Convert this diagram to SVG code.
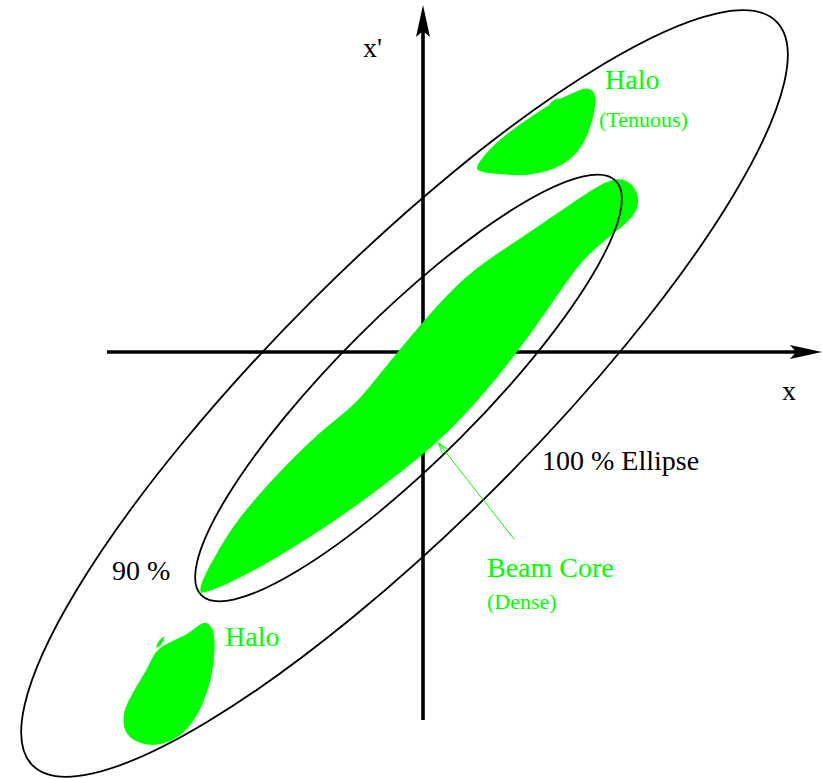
<svg xmlns="http://www.w3.org/2000/svg" width="822" height="778" viewBox="0 0 822 778">
<defs>
<style>
.axis{stroke:#000;stroke-width:3.6;fill:none}
.ell{stroke:#000;stroke-width:1.8;fill:none}
.blob{fill:#00ff00;stroke:none}
.lbl{font-family:"Liberation Serif","Times New Roman",serif;font-size:28px;fill:#000}
.glbl{font-family:"Liberation Serif","Times New Roman",serif;font-size:28px;fill:#00ff00}
.gsmall{font-family:"Liberation Serif","Times New Roman",serif;font-size:22px;fill:#00ff00}
</style>
<marker id="axisHead" markerUnits="userSpaceOnUse" markerWidth="34" markerHeight="16" viewBox="0 0 34 16" refX="6" refY="8" orient="auto">
<path d="M32,8 L0,1 L6,8 L0,15 Z" fill="#000"/>
</marker>
<marker id="pointer" markerUnits="userSpaceOnUse" markerWidth="13" markerHeight="9" viewBox="0 0 13 9" refX="12" refY="4.5" orient="auto">
<path d="M1,1 L12,4.5 L1,8" fill="none" stroke="#00ff00" stroke-width="1"/>
</marker>
</defs>
<rect width="822" height="778" fill="#fff"/>
<g id="axes">
<line class="axis" x1="107" y1="352" x2="796" y2="352" marker-end="url(#axisHead)"/>
<line class="axis" x1="423" y1="720" x2="423" y2="31" marker-end="url(#axisHead)"/>
</g>
<g id="beam-core">
<path class="blob" d="M204,592.5 Q194,595 210.5,564.5 Q227,534 240.5,517 Q254,500 269,483.5 Q284,467 301.5,450 Q319,433 334,421 Q349,409 356,402 Q363,395 381.5,372 Q400,349 420,325.5 Q440,302 457,285.5 Q474,269 500.5,251.5 Q527,234 551,217.5 Q575,201 588,192.5 Q601,184 609.5,181 Q618,178 625,180.5 Q632,183 636,191.5 Q640,200 636.5,209 Q633,218 619,229 Q605,240 595.5,248.5 Q586,257 579,265.5 Q572,274 561,290 Q550,306 538,323 Q526,340 513,357 Q500,374 486.5,390 Q473,406 456.5,423 Q440,440 420,456.5 Q400,473 378,489.5 Q356,506 331,523 Q306,540 278,556.5 Q250,573 232,581.5 Q214,590 204,592.5 Z"/>
</g>
<g id="halo-top">
<path class="blob" d="M477.5,169.5 Q475,167 484,156 Q493,145 506.5,134.5 Q520,124 535,114 Q550,104 561,98.5 Q572,93 580,90 Q588,87 592,90.5 Q596,94 595.5,102 Q595,110 591.5,122.5 Q588,135 582,145 Q576,155 566,162 Q556,169 541,172.5 Q526,176 512,175 Q498,174 489,173 Q480,172 477.5,169.5 Z"/>
<path class="blob" d="M549,105 Q553,99 560,98 Q557,101 556,104 Z"/>
</g>
<g id="halo-bottom">
<path class="blob" d="M203.5,623 Q207,622 211,627 Q215,632 214.5,648.5 Q214,665 210.5,679.5 Q207,694 201.5,706 Q196,718 188,727.5 Q180,737 169,741.5 Q158,746 147.5,744.5 Q137,743 130.5,737.5 Q124,732 123.5,722 Q123,712 128,702 Q133,692 139.5,681.5 Q146,671 151,660.5 Q156,650 163,646 Q170,642 179,638 Q188,634 194,629 Q200,624 203.5,623 Z"/>
<path class="blob" d="M156,648 Q158,639 165,636 Q163,642 160,646 Z"/>
</g>
<g id="ellipse-100">
<ellipse class="ell" cx="404.5" cy="393.5" rx="526" ry="131" transform="rotate(-45 404.5 393.5)"/>
</g>
<g id="ellipse-90">
<ellipse class="ell" cx="408.5" cy="388" rx="293" ry="72" transform="rotate(-45 408.5 388)"/>
</g>
<g id="connectors">
<line x1="514.3" y1="539.3" x2="438.5" y2="443" stroke="#00ff00" stroke-width="1" marker-end="url(#pointer)"/>
</g>
<g id="labels">
<text class="lbl" x="363" y="57">x'</text>
<text class="lbl" x="782" y="400">x</text>
<text class="lbl" x="542" y="470">100 % Ellipse</text>
<text class="lbl" x="112" y="580">90 %</text>
<text class="glbl" x="605" y="89">Halo</text>
<text class="gsmall" x="599" y="127">(Tenuous)</text>
<text class="glbl" x="487" y="577">Beam Core</text>
<text class="gsmall" x="487" y="609">(Dense)</text>
<text class="glbl" x="225" y="646">Halo</text>
</g>
</svg>
